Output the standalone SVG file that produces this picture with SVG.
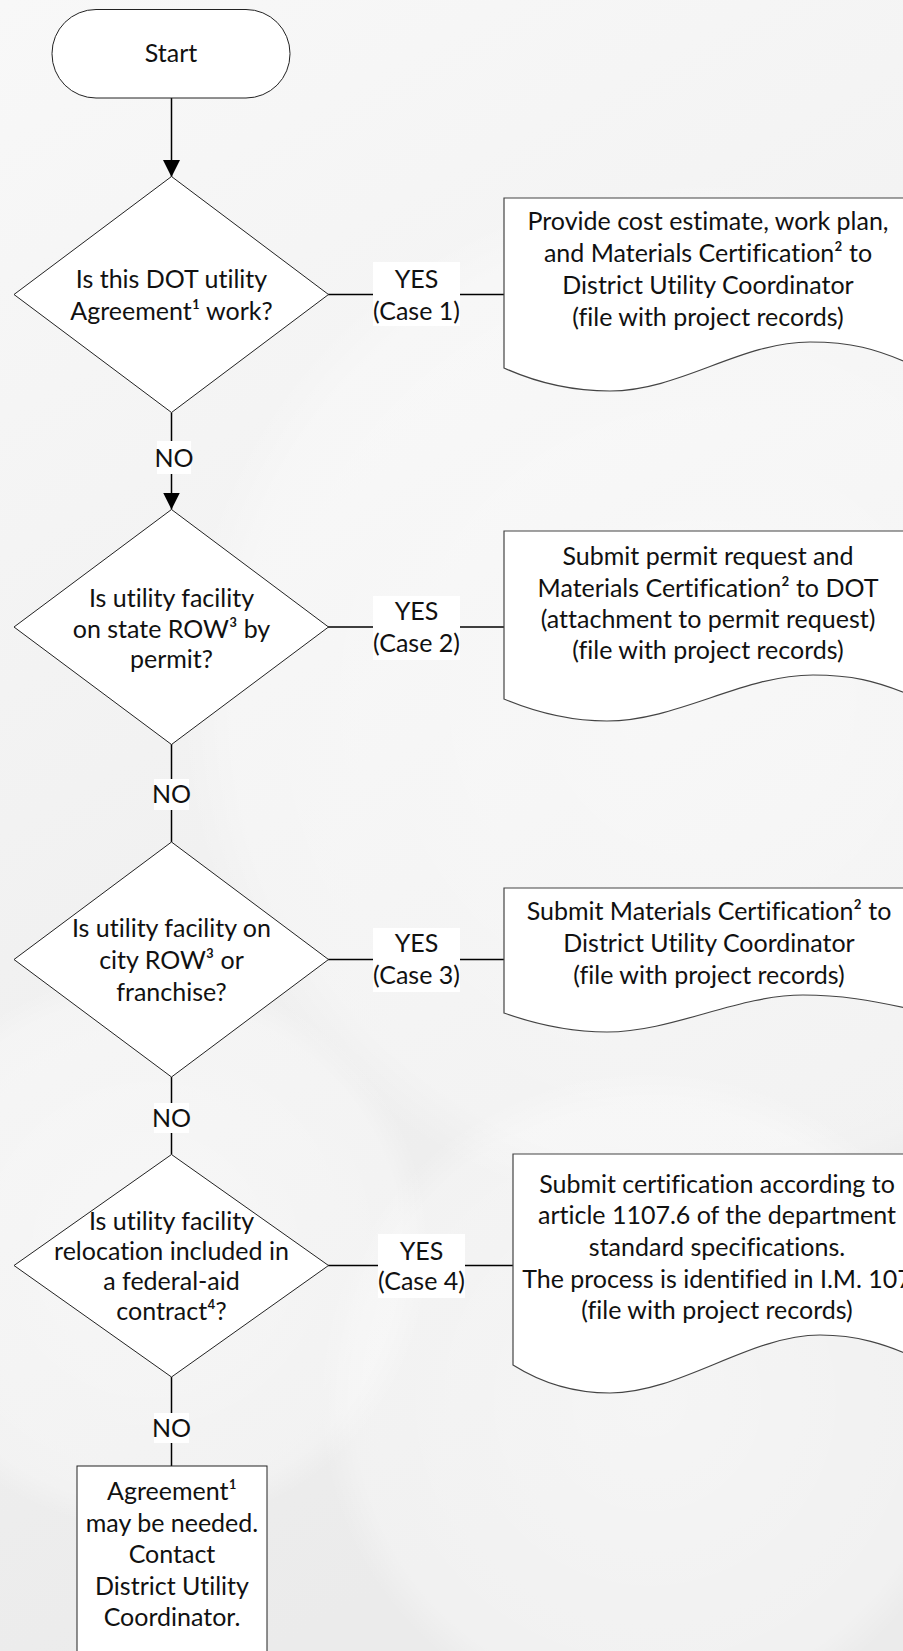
<svg xmlns="http://www.w3.org/2000/svg" width="903" height="1651" viewBox="0 0 903 1651">
<defs>
<style>
text{font-family:Lato,"Liberation Sans",sans-serif;font-size:25px;fill:#111;text-anchor:middle;font-variant-ligatures:none}
.shape{fill:#fff;stroke:#222;stroke-width:1}
.doc{fill:#fff;stroke:#444;stroke-width:1.2}
.conn{stroke:#000;stroke-width:1.5;fill:none}
.lbl{fill:#fff;stroke:none}
</style>
<linearGradient id="bg" x1="0" y1="0" x2="0.3" y2="1">
<stop offset="0" stop-color="#f8f8f8"/>
<stop offset="1" stop-color="#ebebeb"/>
</linearGradient>
<radialGradient id="glow" cx="0.5" cy="0.5" r="0.5">
<stop offset="0" stop-color="#ffffff" stop-opacity="0.5"/>
<stop offset="0.9" stop-color="#ffffff" stop-opacity="0.3"/>
<stop offset="1" stop-color="#ffffff" stop-opacity="0"/>
</radialGradient>
<marker id="arr" markerUnits="userSpaceOnUse" viewBox="0 0 17 17" markerWidth="17" markerHeight="17" refX="17" refY="8.5" orient="auto">
<path d="M0,0 L17,8.5 L0,17 Z" fill="#000"/>
</marker>
</defs>
<rect x="0" y="0" width="903" height="1651" fill="url(#bg)"/>
<circle cx="700" cy="700" r="520" fill="url(#glow)"/>
<circle cx="650" cy="1400" r="330" fill="url(#glow)"/>
<circle cx="150" cy="1250" r="280" fill="url(#glow)"/>

<g id="connectors">
<line class="conn" x1="171.5" y1="98" x2="171.5" y2="177" marker-end="url(#arr)"/>
<line class="conn" x1="171.5" y1="412.5" x2="171.5" y2="509.5" marker-end="url(#arr)"/>
<line class="conn" x1="171.5" y1="744" x2="171.5" y2="842"/>
<line class="conn" x1="171.5" y1="1077" x2="171.5" y2="1154.5"/>
<line class="conn" x1="171.5" y1="1377" x2="171.5" y2="1466"/>
<line class="conn" x1="328" y1="294.5" x2="504" y2="294.5"/>
<line class="conn" x1="328" y1="627" x2="504" y2="627"/>
<line class="conn" x1="328" y1="959.5" x2="504" y2="959.5"/>
<line class="conn" x1="328" y1="1265.5" x2="513" y2="1265.5"/>
<rect class="lbl" x="157" y="441" width="34" height="33"/>
<text x="174" y="467">NO</text>
<rect class="lbl" x="154" y="779" width="35" height="31"/>
<text x="171.5" y="803">NO</text>
<rect class="lbl" x="154" y="1103" width="35" height="30"/>
<text x="171.5" y="1127">NO</text>
<rect class="lbl" x="154" y="1413" width="35" height="30"/>
<text x="171.5" y="1437">NO</text>
<rect class="lbl" x="373" y="262" width="87" height="64"/>
<text x="416.5" y="288">YES</text>
<text x="416.5" y="320">(Case 1)</text>
<rect class="lbl" x="373" y="596" width="87" height="64"/>
<text x="416.5" y="620">YES</text>
<text x="416.5" y="652">(Case 2)</text>
<rect class="lbl" x="373" y="928" width="87" height="64"/>
<text x="416.5" y="952">YES</text>
<text x="416.5" y="984">(Case 3)</text>
<rect class="lbl" x="378" y="1234" width="87" height="64"/>
<text x="421.5" y="1260">YES</text>
<text x="421.5" y="1290">(Case 4)</text>
</g>

<g id="start">
<rect class="shape" x="52" y="9.5" width="238" height="88.5" rx="44"/>
<text x="171" y="62">Start</text>
</g>

<g id="q1">
<polygon class="shape" points="171.5,176.5 328.5,294.5 171.5,412.5 14,294.5"/>
<text x="171.5" y="288">Is this DOT utility</text>
<text x="171.5" y="320">Agreement¹ work?</text>
</g>

<g id="q2">
<polygon class="shape" points="171.5,509.5 328.5,627 171.5,744.5 14,627"/>
<text x="171.5" y="606.5">Is utility facility</text>
<text x="171.5" y="638">on state ROW³ by</text>
<text x="171.5" y="668">permit?</text>
</g>

<g id="q3">
<polygon class="shape" points="171.5,842 328.5,959.5 171.5,1077 14,959.5"/>
<text x="171.5" y="937">Is utility facility on</text>
<text x="171.5" y="969">city ROW³ or</text>
<text x="171.5" y="1001">franchise?</text>
</g>

<g id="q4">
<polygon class="shape" points="171.5,1154.5 328.5,1265.5 171.5,1377 14,1265.5"/>
<text x="171.5" y="1230">Is utility facility</text>
<text x="171.5" y="1260">relocation included in</text>
<text x="171.5" y="1290">a federal-aid</text>
<text x="171.5" y="1320">contract⁴?</text>
</g>

<g id="case1">
<path class="doc" d="M504,198 H915 V366 C 875,348 850,342 810,342 C 740,342 680,391 610,391 C 570,391 535,382 504,368 Z"/>
<text x="708" y="230">Provide cost estimate, work plan,</text>
<text x="708" y="262">and Materials Certification² to</text>
<text x="708" y="294">District Utility Coordinator</text>
<text x="708" y="326">(file with project records)</text>
</g>

<g id="case2">
<path class="doc" d="M504,531 H915 V697 C 875,680 850,675 813,675 C 743,675 677,721 607,721 C 567,721 535,712 504,699 Z"/>
<text x="708" y="565">Submit permit request and</text>
<text x="708" y="597">Materials Certification² to DOT</text>
<text x="708" y="628">(attachment to permit request)</text>
<text x="708" y="659">(file with project records)</text>
</g>

<g id="case3">
<path class="doc" d="M504,888 H915 V1010 C 870,1000 840,995 803,995 C 738,995 672,1032 607,1032 C 567,1032 535,1024 504,1013 Z"/>
<text x="709" y="920">Submit Materials Certification² to</text>
<text x="709" y="952">District Utility Coordinator</text>
<text x="709" y="984">(file with project records)</text>
</g>

<g id="case4">
<path class="doc" d="M513,1154 H925 V1362 C 885,1343 855,1335 820,1335 C 750,1335 680,1393 610,1393 C 570,1393 540,1382 513,1365 Z"/>
<text x="717" y="1192.5">Submit certification according to</text>
<text x="717" y="1224">article 1107.6 of the department</text>
<text x="717" y="1255.5">standard specifications.</text>
<text x="717" y="1287.5">The process is identified in I.M. 107</text>
<text x="717" y="1319">(file with project records)</text>
</g>

<g id="agreement">
<rect class="shape" x="77" y="1466" width="190" height="210"/>
<text x="172" y="1500">Agreement¹</text>
<text x="172" y="1531.5">may be needed.</text>
<text x="172" y="1563">Contact</text>
<text x="172" y="1594.5">District Utility</text>
<text x="172" y="1626">Coordinator.</text>
</g>
</svg>
